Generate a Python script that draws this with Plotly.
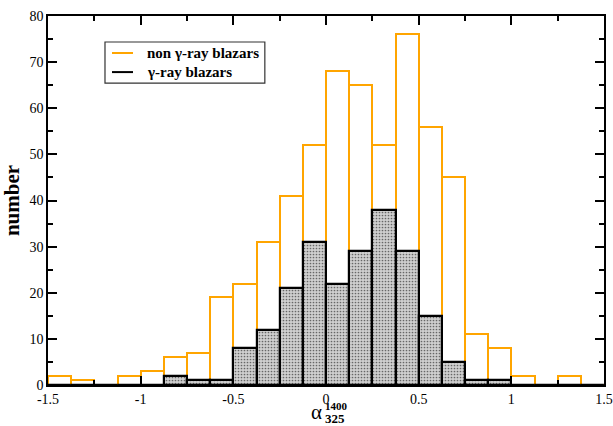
import plotly.graph_objects as go

bin_left = [-1.5 + 0.125 * i for i in range(24)]
bin_width = 0.125
non_gamma = [2, 1, 0, 2, 3, 6, 7, 19, 22, 31, 41, 52, 68, 65, 52, 76, 56, 45, 11, 8, 2, 0, 2, 0]
gamma = [0, 0, 0, 0, 0, 2, 1, 1, 8, 12, 21, 31, 22, 29, 38, 29, 15, 5, 1, 1, 0, 0, 0, 0]
x_tickvals = [-1.5, -1, -0.5, 0, 0.5, 1, 1.5]
x_ticktext = ["-1.5", "-1", "-0.5", "0", "0.5", "1", "1.5"]
y_tickvals = [0, 10, 20, 30, 40, 50, 60, 70, 80]
legend_labels = ["non γ-ray blazars", "γ-ray blazars"]

centers = [b + bin_width / 2 for b in bin_left]
ORANGE = "#FFA500"
FONT = "Liberation Serif, Times New Roman, serif"

fig = go.Figure()
fig.add_trace(go.Bar(
    x=centers, y=non_gamma, width=bin_width, name=legend_labels[0],
    marker=dict(color="rgba(0,0,0,0)", line=dict(color=ORANGE, width=2)),
    showlegend=False,
))
fig.add_trace(go.Bar(
    x=centers, y=gamma, width=bin_width, name=legend_labels[1],
    marker=dict(color="#d0d0d0", line=dict(color="black", width=2.2),
                pattern=dict(shape=".", bgcolor="#cfcfcf", fgcolor="#000000", size=3, solidity=0.25)),
    showlegend=False,
))

axis_common = dict(showline=True, linecolor="black", linewidth=1.5, mirror="ticks",
                   ticks="inside", tickcolor="black", tickwidth=1.5, ticklen=9,
                   showgrid=False, zeroline=False, automargin=False,
                   tickfont=dict(family=FONT, size=14, color="black"))
fig.update_xaxes(range=[-1.5, 1.5], tickvals=x_tickvals, ticktext=x_ticktext,
                 minor=dict(dtick=0.25, tick0=-1.5, ticks="inside", ticklen=5, tickwidth=1.5, tickcolor="black"),
                 **axis_common)
fig.update_yaxes(range=[0, 80], tickvals=y_tickvals,
                 minor=dict(dtick=5, tick0=0, ticks="inside", ticklen=5, tickwidth=1.5, tickcolor="black"),
                 title=dict(text="<b>number</b>", font=dict(family=FONT, size=21, color="black"), standoff=6),
                 **axis_common)

# x-axis title: alpha with stacked super/subscript
fig.add_annotation(x=0.494, y=-0.073, xref="paper", yref="paper", text="α", showarrow=False,
                   font=dict(family=FONT, size=21, color="black"), xanchor="right", yanchor="middle",
                   borderpad=0)
fig.add_annotation(x=0.497, y=-0.057, xref="paper", yref="paper", text="<b>1400</b>", showarrow=False,
                   font=dict(family=FONT, size=11, color="black"), xanchor="left", yanchor="middle",
                   borderpad=0)
fig.add_annotation(x=0.497, y=-0.091, xref="paper", yref="paper", text="<b>325</b>", showarrow=False,
                   font=dict(family=FONT, size=13, color="black"), xanchor="left", yanchor="middle",
                   borderpad=0)

# legend box drawn by hand
fig.add_shape(type="rect", xref="paper", yref="paper", x0=0.1025, x1=0.390, y0=0.818, y1=0.9295,
              line=dict(color="#333333", width=1.2), fillcolor="white", layer="above")
legend_colors = [ORANGE, "black"]
legend_y = [0.8997, 0.848]
for lab, col, ly in zip(legend_labels, legend_colors, legend_y):
    fig.add_shape(type="line", xref="paper", yref="paper", x0=0.1151, x1=0.1529, y0=ly, y1=ly,
                  line=dict(color=col, width=2), layer="above")
    fig.add_annotation(x=0.1745, y=ly, xref="paper", yref="paper", text="<b>" + lab + "</b>",
                       showarrow=False, xanchor="left", yanchor="middle",
                       font=dict(family=FONT, size=15, color="black"))

fig.update_layout(
    width=613, height=426,
    margin=dict(l=48, r=9, t=16, b=41, autoexpand=False),
    barmode="overlay", bargap=0,
    plot_bgcolor="white", paper_bgcolor="white",
    showlegend=False,
)
fig.write_html("out.html", config={"displayModeBar": False},
               post_script="document.body.style.margin='0';")
